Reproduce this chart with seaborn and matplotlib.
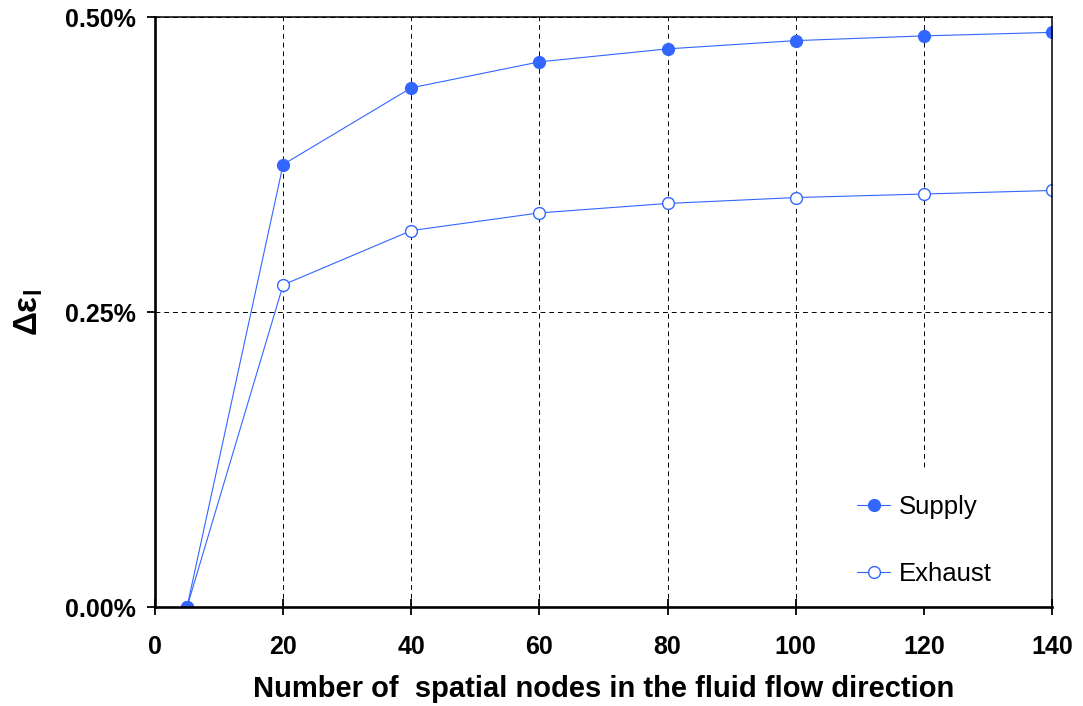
import numpy as np
import pandas as pd
import matplotlib
matplotlib.use("Agg")
import matplotlib.pyplot as plt
import seaborn as sns
from matplotlib.ticker import FuncFormatter
from matplotlib.patches import Rectangle

# ---- data (values in %) ----
nodes = [5, 20, 40, 60, 80, 100, 120, 140]
supply = [0.0, 0.375, 0.440, 0.462, 0.473, 0.480, 0.484, 0.487]
exhaust = [0.0, 0.273, 0.319, 0.334, 0.342, 0.347, 0.350, 0.353]
series_names = ["Supply", "Exhaust"]
x_ticks = [0, 20, 40, 60, 80, 100, 120, 140]
y_ticks = [0.0, 0.25, 0.50]

sns.set_style("white")
plt.rcParams["font.family"] = ["Liberation Sans", "DejaVu Sans"]
plt.rcParams["mathtext.fontset"] = "custom"
plt.rcParams["mathtext.rm"] = "Liberation Sans"
plt.rcParams["mathtext.bf"] = "Liberation Sans:bold"
plt.rcParams["mathtext.it"] = "Liberation Sans:italic"
for k in ["text.color", "axes.labelcolor", "xtick.color", "ytick.color"]:
    plt.rcParams[k] = "black"

color = "#3366FF"

fig = plt.figure(figsize=(10.83, 7.06), dpi=100)
ax = fig.add_axes([0.1431, 0.1402, 0.9714 - 0.1431, 0.9759 - 0.1402])

df_s = pd.DataFrame({"x": nodes, "y": supply})
df_e = pd.DataFrame({"x": nodes, "y": exhaust})

sns.lineplot(data=df_e, x="x", y="y", ax=ax, color=color, lw=0.8,
             marker="o", markersize=8.5, markerfacecolor="white",
             markeredgecolor=color, markeredgewidth=1.0,
             label=series_names[1], zorder=3)
sns.lineplot(data=df_s, x="x", y="y", ax=ax, color=color, lw=0.8,
             marker="o", markersize=8.5, markerfacecolor=color,
             markeredgecolor=color, markeredgewidth=1.0,
             label=series_names[0], zorder=4)

ax.set_xlim(0, 140)
ax.set_ylim(0, 0.5)
ax.set_xticks(x_ticks)
ax.set_yticks(y_ticks)
ax.yaxis.set_major_formatter(FuncFormatter(lambda v, p: f"{v:.2f}%"))

ax.grid(True, color="black", linestyle=(0, (5, 4)), linewidth=0.7)
ax.set_axisbelow(True)

# white legend area masking the gridline
ax.add_patch(Rectangle((0.77, 0.0), 0.20, 0.236, transform=ax.transAxes,
                       facecolor="white", edgecolor="none", zorder=1))

for side in ["left", "bottom"]:
    ax.spines[side].set_linewidth(1.9)
for side in ["top", "right"]:
    ax.spines[side].set_linewidth(1.1)
for s in ax.spines.values():
    s.set_color("black")
    s.set_visible(True)
    s.set_zorder(5)

ax.tick_params(axis="x", direction="inout", length=12, width=1.3, pad=14,
               labelsize=18, bottom=True)
ax.tick_params(axis="y", direction="out", length=6, width=1.3, pad=8,
               labelsize=18, left=True)
for lbl in ax.get_xticklabels() + ax.get_yticklabels():
    lbl.set_fontweight("bold")

ax.set_xlabel("Number of  spatial nodes in the fluid flow direction",
              fontsize=21, fontweight="bold", labelpad=12)
ax.set_ylabel(r"$\mathbf{\Delta\varepsilon_{l}}$", fontsize=24, labelpad=14)

handles, labels = ax.get_legend_handles_labels()
order = [labels.index(n) for n in series_names]
leg = ax.legend([handles[i] for i in order], [labels[i] for i in order],
                loc="lower right", bbox_to_anchor=(0.957, 0.0),
                fontsize=18.5, frameon=False,
                handlelength=1.3, handletextpad=0.35, labelspacing=1.65,
                borderpad=0.33)

fig.savefig("out.png", dpi=100)
